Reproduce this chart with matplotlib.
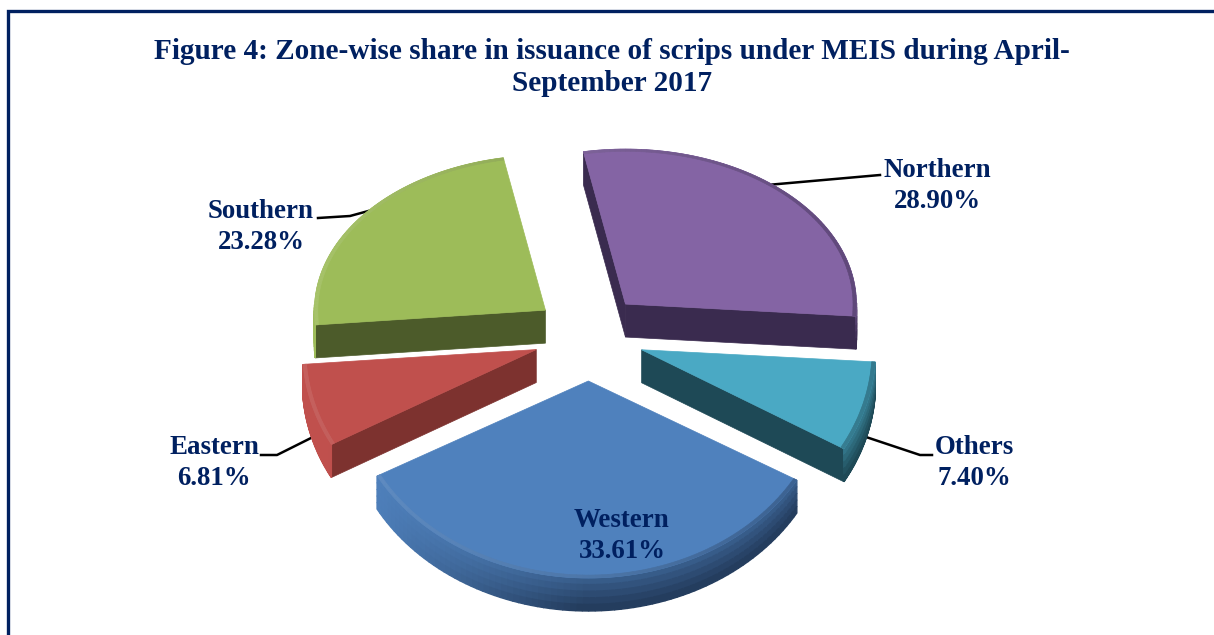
import numpy as np
import matplotlib
matplotlib.use("Agg")
import matplotlib.pyplot as plt

plt.rcParams['font.family'] = ['Liberation Serif', 'DejaVu Serif']

# data, clockwise from the top of the pie
zones = ["Northern", "Others", "Western", "Eastern", "Southern"]
shares = [28.90, 7.40, 33.61, 6.81, 23.28]
title = "Figure 4: Zone-wise share in issuance of scrips under MEIS during April-\nSeptember 2017"

# styles
top_colors = ["#8464a4", "#4aa9c4", "#4f81bd", "#c0504d", "#9dbc59"]
side_colors = ["#3a2b4f", "#1e4956", "#243d5e", "#7d322f", "#4c5b2a"]
text_color = "#002060"

# layout in pixels
center = (589, 337)
explode = 55
rx, ry_back, ry_front = 231, 155, 197
depth = 33
start_angle = 100.5
label_pos = [(937, 186), (974, 463), (622, 536), (214, 463), (261, 227)]
leaders = [
    [(767, 185), (880, 175)],
    [(866, 437), (920, 455), (932, 455)],
    None,
    [(313, 437), (277, 455), (261, 455)],
    [(372, 210), (350, 216), (318, 218)],
]


def project(theta, r, apex):
    # squashed pie plane, the front half looks bigger than the back
    ry = np.where(np.sin(theta) > 0, ry_back, ry_front)
    grow = 1 + max(0, apex[1] - center[1]) * 0.001
    return apex[0] + rx * grow * r * np.cos(theta), apex[1] - ry * r * np.sin(theta)


def mix(c1, c2, t):
    a = np.array(matplotlib.colors.to_rgb(c1))
    b = np.array(matplotlib.colors.to_rgb(c2))
    return tuple(a + (b - a) * t)


def draw_slice(ax, a0, a1, top, side):
    # a0 > a1, going clockwise
    mid = np.radians((a0 + a1) / 2)
    apex = (center[0] + explode * np.cos(mid), center[1] - explode * 0.8 * np.sin(mid))
    thetas = np.radians(np.linspace(a0, a1, 80))
    xs, ys = project(thetas, 1, apex)

    # radial walls which face the viewer
    for angle, normal, idx in [(a0, a0 + 90, 0), (a1, a1 - 90, -1)]:
        if np.sin(np.radians(normal)) < 0:
            qx = [apex[0], xs[idx], xs[idx], apex[0]]
            qy = [apex[1], ys[idx], ys[idx] + depth, apex[1] + depth]
            ax.fill(qx, qy, color=side, lw=0.5, zorder=2)

    # outer rim, shaded strip by strip and darker towards the bottom edge
    ix, iy = project(thetas, 0.985, apex)
    steps = 5
    for i in range(len(thetas) - 1):
        if np.sin(thetas[i]) > 0.02:
            continue
        t = np.clip((np.cos(thetas[i]) + 0.9) / 0.9, 0, 1)
        for k in range(steps):
            col = mix(top, side, min(1, t * (0.55 + 0.6 * k / steps)))
            d0, d1 = depth * k / steps, depth * (k + 1) / steps
            ax.fill([xs[i], xs[i + 1], xs[i + 1], xs[i]],
                    [ys[i] + d0, ys[i + 1] + d0, ys[i + 1] + d1, ys[i] + d1],
                    color=col, lw=1.0, zorder=2)

    # flat top with a thin bevel
    ax.fill(np.r_[apex[0], xs], np.r_[apex[1], ys], color=top, lw=0.5, zorder=3)
    for i in range(len(thetas) - 1):
        t = (np.cos(thetas[i]) + 1) / 2
        col = mix(mix(top, "white", 0.1), mix(top, side, 0.5), t)
        ax.fill([xs[i], xs[i + 1], ix[i + 1], ix[i]],
                [ys[i], ys[i + 1], iy[i + 1], iy[i]],
                color=col, lw=0.4, zorder=4)


fig = plt.figure(figsize=(12.14, 6.35), dpi=100)
ax = fig.add_axes([0, 0, 1, 1])
ax.set_xlim(0, 1214)
ax.set_ylim(635, 0)
ax.axis("off")

# frame: only the top and left rules show
ax.plot([8, 8, 1214], [635, 10.5, 10.5], color=text_color, lw=2.4, zorder=1,
        solid_joinstyle="miter")

ax.text(612, 67.5, title, ha="center", va="center", color=text_color,
        fontsize=21.1, fontweight="bold", linespacing=1.25)

angle = start_angle
for i, zone in enumerate(zones):
    sweep = shares[i] / sum(shares) * 360
    draw_slice(ax, angle, angle - sweep, top_colors[i], side_colors[i])
    angle -= sweep

    if leaders[i] is not None:
        lx, ly = zip(*leaders[i])
        ax.plot(lx, ly, color="black", lw=1.8, zorder=1)
    ax.text(label_pos[i][0], label_pos[i][1], f"{zone}\n{shares[i]:.2f}%", ha="center",
            va="center", color=text_color, fontsize=19.4, fontweight="bold",
            linespacing=1.3, zorder=6)

fig.savefig("out.png", dpi=100)
